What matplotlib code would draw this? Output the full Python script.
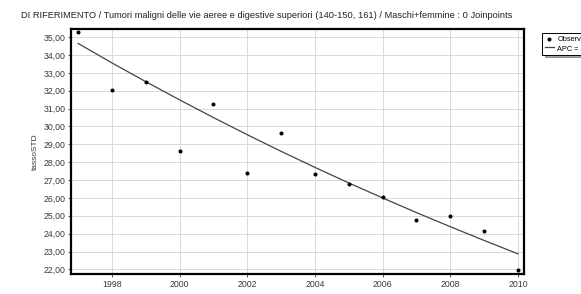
import matplotlib
matplotlib.use('Agg')
import matplotlib.pyplot as plt
from matplotlib.ticker import FuncFormatter, MultipleLocator

plt.rcParams['font.family'] = ['Liberation Sans', 'DejaVu Sans']

# dati osservati e valori stimati (modello 0 joinpoints)
anni = [1997, 1998, 1999, 2000, 2001, 2002, 2003, 2004, 2005, 2006, 2007, 2008, 2009, 2010]
osservati = [35.27, 32.04, 32.50, 28.62, 31.27, 27.41, 29.61, 27.34, 26.78, 26.07, 24.76, 24.98, 24.13, 21.96]
stimati = [34.65, 33.56, 32.51, 31.49, 30.50, 29.54, 28.61, 27.71, 26.84, 26.00, 25.18, 24.39, 23.62, 22.87]
xticks = [1998, 2000, 2002, 2004, 2006, 2008, 2010]
titolo = 'DI RIFERIMENTO / Tumori maligni delle vie aeree e digestive superiori (140-150, 161) / Maschi+femmine : 0 Joinpoints'

fig = plt.figure(figsize=(5.81, 2.94), dpi=100)
ax = fig.add_axes([0.1222, 0.068, 0.7797, 0.8323])

ax.plot(anni, stimati, color='#444444', lw=0.9, label='APC = -3,1*', zorder=3)
ax.plot(anni, osservati, 'o', color='black', ms=1.9, ls='none', label='Observed', zorder=4)

ax.set_xlim(1996.79, 2010.18)
ax.set_ylim(21.74, 35.44)
ax.set_xticks(xticks)
ax.yaxis.set_major_locator(MultipleLocator(1))
ax.yaxis.set_major_formatter(FuncFormatter(lambda v, p: ('%.2f' % v).replace('.', ',')))
ax.grid(True, color='#d9d9d9', lw=0.7)
ax.set_axisbelow(True)
ax.tick_params(labelsize=6.3, colors='#3a3a3a', length=2, width=0.6, pad=2)
for s in ax.spines.values():
    s.set_linewidth(1.6)
    s.set_color('black')

ax.set_ylabel('tassoSTD', fontsize=6, color='#3a3a3a', labelpad=3)
ax.set_xlabel('anno', fontsize=6, color='#3a3a3a', labelpad=3)

fig.text(0.036, 0.947, titolo, fontsize=6.65, color='#222222', ha='left', va='center')

h, l = ax.get_legend_handles_labels()
leg = fig.legend(h[::-1], l[::-1], loc='upper left', bbox_to_anchor=(542 / 581, 1 - 33 / 294),
                 fontsize=5.3, frameon=True, fancybox=False, shadow=True, borderpad=0.4,
                 handlelength=1.2, handletextpad=0.5, labelspacing=0.2, borderaxespad=0)
leg.get_frame().set_edgecolor('black')
leg.get_frame().set_linewidth(0.7)

fig.savefig('out.png', dpi=100)
